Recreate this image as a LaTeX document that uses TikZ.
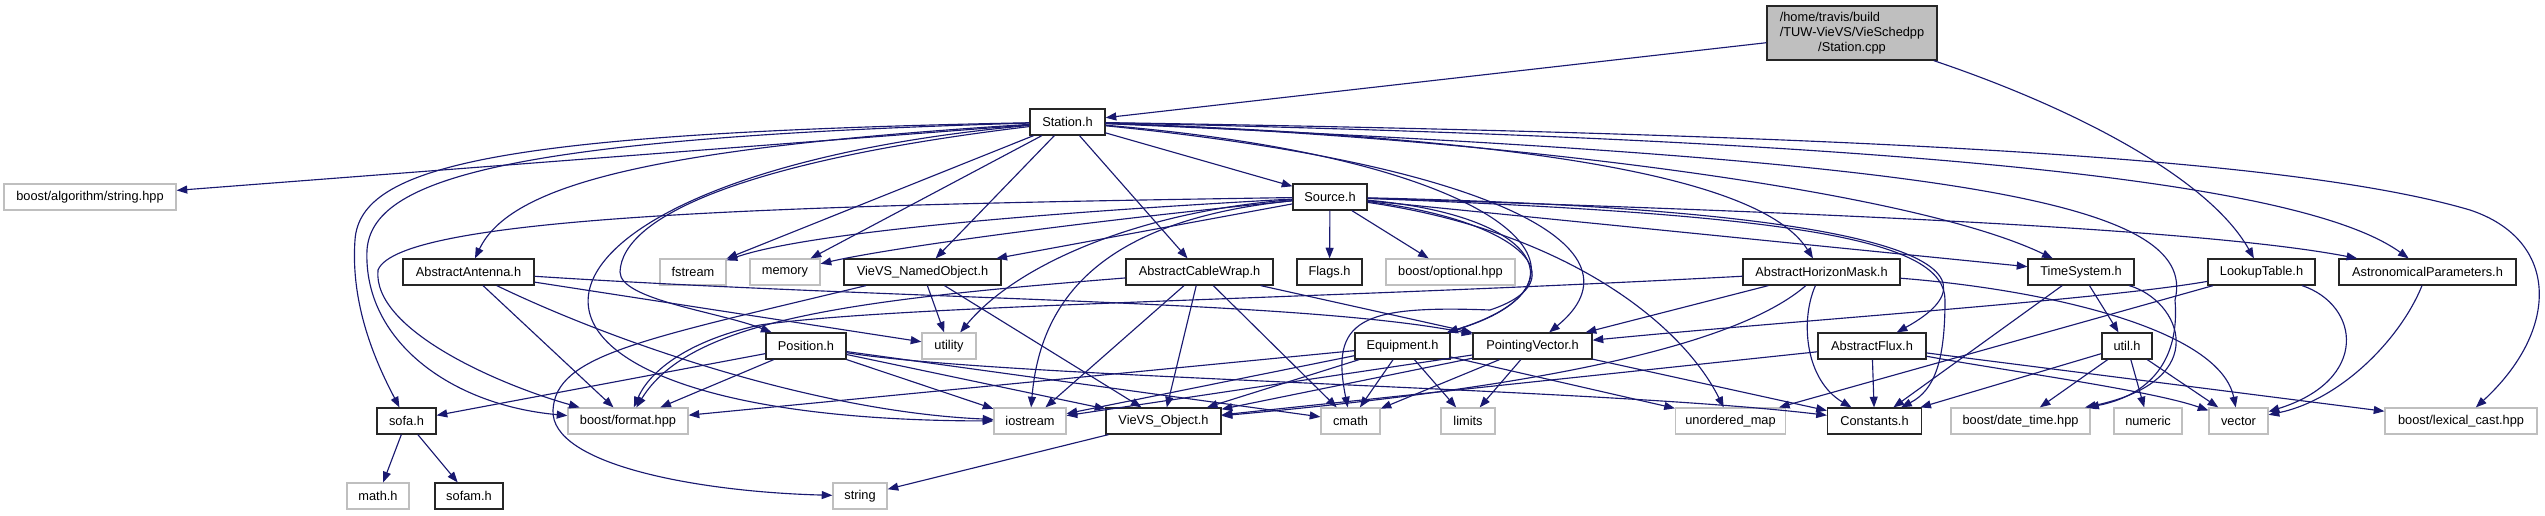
\documentclass[tikz,border=0pt]{standalone}
\usepackage{fontspec}
\setsansfont{Liberation Sans}
\usetikzlibrary{arrows.meta}
\definecolor{depblue}{RGB}{25,25,112}
\definecolor{sysgray}{RGB}{191,191,191}
\begin{document}
\begin{tikzpicture}[x=0.75pt, y=-0.75pt,
        every node/.style={font=\sffamily\fontsize{9.6}{11.25}\selectfont, inner sep=0pt, minimum height=19.5pt},
        hdr/.style={draw=black!85, line width=0.9pt, fill=white, minimum width=#1*0.75pt},
        sys/.style={draw=sysgray, line width=0.9pt, fill=white, minimum width=#1*0.75pt},
        dep/.style={draw=depblue, line width=0.85pt, -{Triangle[length=8pt,width=6pt]}}]
    \useasboundingbox (0,0) rectangle (2545,515);
    \node[hdr=170, fill=sysgray, minimum height=40.5pt] (cpp) at (1852,33)
        {\begin{tabular}{@{}l@{}}/home/travis/build\\/TUW-VieVS/VieSchedpp\\\multicolumn{1}{@{}c@{}}{/Station.cpp}\end{tabular}};
    \node[hdr=75] (stationh) at (1067.5,122) {Station.h};
    \node[sys=172] (algstr) at (90,197) {boost/algorithm/string.hpp};
    \node[hdr=74] (sourceh) at (1330,197) {Source.h};
    \node[hdr=131] (antenna) at (468.5,272) {AbstractAntenna.h};
    \node[sys=66] (fstream) at (693,272) {fstream};
    \node[sys=70] (memory) at (785,272) {memory};
    \node[hdr=157] (namedobj) at (922.5,272) {VieVS\_NamedObject.h};
    \node[hdr=147] (cablewrap) at (1199.5,272) {AbstractCableWrap.h};
    \node[hdr=65] (flags) at (1329.5,272) {Flags.h};
    \node[sys=129] (optional) at (1450.5,272) {boost/optional.hpp};
    \node[hdr=157] (horizon) at (1821.5,272) {AbstractHorizonMask.h};
    \node[hdr=106] (timesys) at (2081,272) {TimeSystem.h};
    \node[hdr=107] (lookup) at (2261.5,272) {LookupTable.h};
    \node[hdr=177] (astro) at (2427.5,272) {AstronomicalParameters.h};
    \node[hdr=80] (position) at (806,346) {Position.h};
    \node[sys=54] (utility) at (949,346) {utility};
    \node[hdr=95] (equipment) at (1402.5,346) {Equipment.h};
    \node[hdr=119] (pointing) at (1532.5,346) {PointingVector.h};
    \node[hdr=108] (flux) at (1872,346) {AbstractFlux.h};
    \node[hdr=50] (util) at (2127,346) {util.h};
    \node[hdr=59] (sofa) at (406.5,421) {sofa.h};
    \node[sys=120] (format) at (628,421) {boost/format.hpp};
    \node[sys=72] (iostream) at (1030,421) {iostream};
    \node[hdr=115] (object) at (1163.5,421) {VieVS\_Object.h};
    \node[sys=59] (cmath) at (1350.5,421) {cmath};
    \node[sys=54] (limits) at (1468,421) {limits};
    \node[sys=110] (unordered) at (1730.5,421) {unordered\_map};
    \node[hdr=94] (constants) at (1874.5,421) {Constants.h};
    \node[sys=139] (datetime) at (2020.5,421) {boost/date\_time.hpp};
    \node[sys=68] (numeric) at (2148,421) {numeric};
    \node[sys=59] (vector) at (2238.5,421) {vector};
    \node[sys=152] (lexical) at (2461,421) {boost/lexical\_cast.hpp};
    \node[sys=62] (mathh) at (378,496) {math.h};
    \node[hdr=68] (sofam) at (469,496) {sofam.h};
    \node[sys=54] (string) at (860,496) {string};
    \foreach \a/\b in {cpp/stationh, stationh/algstr, stationh/fstream, stationh/memory, stationh/namedobj,
            stationh/cablewrap, stationh/sourceh, sourceh/namedobj, sourceh/flags, sourceh/optional, sourceh/timesys,
            antenna/format, antenna/utility, namedobj/utility, namedobj/object, cablewrap/iostream, cablewrap/object,
            cablewrap/cmath, cablewrap/pointing, equipment/object, equipment/iostream, equipment/cmath, equipment/limits,
            equipment/unordered, equipment/format, pointing/object, pointing/iostream, pointing/cmath, pointing/limits,
            pointing/constants, position/sofa, position/format, position/iostream, position/object, position/cmath,
            horizon/pointing, timesys/util, timesys/constants, lookup/unordered, flux/object, flux/constants,
            flux/lexical, util/constants, util/datetime, util/numeric, util/vector, sofa/mathh, sofa/sofam, object/string}
        \draw[dep] (\a) -- (\b);
    \draw[dep] (stationh) .. controls (500,133) and (360,165) .. (355,240) .. controls (350,310) and (380,370) .. (sofa);
    \draw[dep] (stationh) .. controls (500,138) and (372,180) .. (367,250) .. controls (363,340) and (450,405) .. (format);
    \draw[dep] (stationh) .. controls (650,148) and (510,185) .. (antenna);
    \draw[dep] (stationh) .. controls (750,160) and (622,215) .. (620,272) .. controls (620,300) and (720,312) .. (position);
    \draw[dep] (stationh) .. controls (480,175) and (420,420) .. (iostream);
    \draw[dep] (stationh) .. controls (1520,160) and (1620,280) .. (equipment);
    \draw[dep] (stationh) .. controls (1500,165) and (1650,250) .. (pointing);
    \draw[dep] (stationh) .. controls (1600,140) and (1770,190) .. (horizon);
    \draw[dep] (stationh) .. controls (1450,135) and (1900,185) .. (timesys);
    \draw[dep] (stationh) .. controls (1900,140) and (2300,180) .. (astro);
    \draw[dep] (stationh) .. controls (1950,160) and (2200,200) .. (2175,300) .. controls (2180,360) and (2150,395) .. (datetime);
    \draw[dep] (stationh) .. controls (1900,135) and (2300,160) .. (2470,210) .. controls (2560,240) and (2560,330) .. (lexical);
    \draw[dep] (sourceh) .. controls (1000,215) and (800,235) .. (fstream);
    \draw[dep] (sourceh) .. controls (1050,225) and (880,250) .. (memory);
    \draw[dep] (sourceh) .. controls (1150,210) and (1020,260) .. (utility);
    \draw[dep] (sourceh) .. controls (1100,220) and (1040,300) .. (iostream);
    \draw[dep] (sourceh) .. controls (800,205) and (400,215) .. (378,270) .. controls (372,330) and (500,385) .. (format);
    \draw[dep] (sourceh) .. controls (1540,215) and (1585,290) .. (equipment);
    \draw[dep] (sourceh) .. controls (1520,220) and (1580,280) .. (1490,310) .. controls (1360,305) and (1330,320) .. (cmath);
    \draw[dep] (sourceh) .. controls (1560,230) and (1680,320) .. (unordered);
    \draw[dep] (sourceh) .. controls (1920,210) and (2010,270) .. (flux);
    \draw[dep] (sourceh) .. controls (1800,215) and (1945,240) .. (1945,300) .. controls (1945,360) and (1935,390) .. (constants);
    \draw[dep] (sourceh) .. controls (1800,212) and (2200,228) .. (astro);
    \draw[dep] (cpp) .. controls (2080,110) and (2210,180) .. (lookup);
    \draw[dep] (antenna) .. controls (620,345) and (820,412) .. (iostream);
    \draw[dep] (antenna) .. controls (900,300) and (1300,300) .. (pointing);
    \draw[dep] (namedobj) .. controls (640,340) and (556,355) .. (553,410) .. controls (550,465) and (700,492) .. (string);
    \draw[dep] (cablewrap) .. controls (850,300) and (690,320) .. (format);
    \draw[dep] (position) .. controls (1000,378) and (1600,388) .. (constants);
    \draw[dep] (horizon) .. controls (1300,300) and (900,305) .. (760,325) .. controls (690,340) and (650,370) .. (format);
    \draw[dep] (horizon) .. controls (1720,360) and (1450,395) .. (object);
    \draw[dep] (horizon) .. controls (1800,320) and (1805,380) .. (constants);
    \draw[dep] (horizon) .. controls (2050,290) and (2220,330) .. (vector);
    \draw[dep] (timesys) .. controls (2180,300) and (2215,380) .. (datetime);
    \draw[dep] (lookup) .. controls (2100,300) and (1800,320) .. (pointing);
    \draw[dep] (lookup) .. controls (2360,305) and (2370,380) .. (vector);
    \draw[dep] (astro) .. controls (2400,340) and (2340,400) .. (vector);
    \draw[dep] (flux) .. controls (2000,370) and (2150,390) .. (vector);
\end{tikzpicture}
\end{document}
